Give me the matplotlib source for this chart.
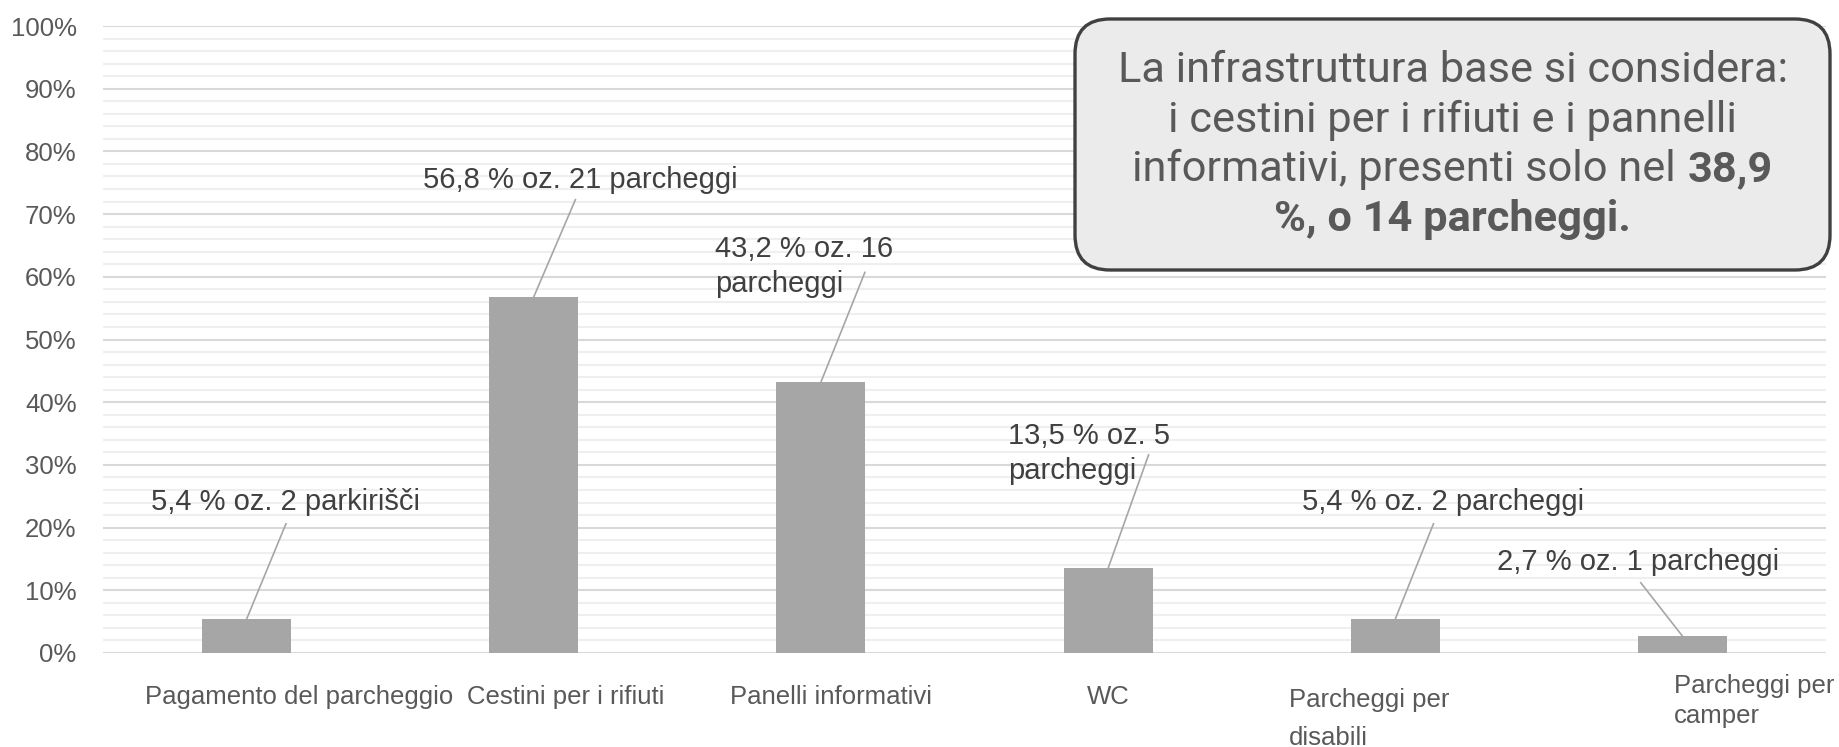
import matplotlib
matplotlib.use("Agg")
import matplotlib.pyplot as plt
from matplotlib.patches import FancyBboxPatch
from matplotlib.offsetbox import TextArea, HPacker, VPacker, AnnotationBbox
from matplotlib.ticker import MultipleLocator, PercentFormatter
import matplotlib.transforms as mtransforms

# data
categories = ["Pagamento del parcheggio", "Cestini per i rifiuti", "Panelli informativi",
              "WC", "Parcheggi per\ndisabili", "Parcheggi per\ncamper"]
shares = [5.4, 56.8, 43.2, 13.5, 5.4, 2.7]
bar_labels = ["5,4 % oz. 2 parkirišči", "56,8 % oz. 21 parcheggi", "43,2 % oz. 16\nparcheggi",
              "13,5 % oz. 5\nparcheggi", "5,4 % oz. 2 parcheggi", "2,7 % oz. 1 parcheggi"]
y_ticks = [0, 10, 20, 30, 40, 50, 60, 70, 80, 90, 100]

# label layout (data coords, last-line baseline)
label_pos = [(0.137, 22.8), (1.161, 74.1), (1.631, 57.6), (2.651, 27.8), (4.165, 22.8), (4.845, 13.25)]
label_ha = ["center", "center", "left", "left", "center", "center"]
leader_from = [(0.137, 20.6), (1.145, 72.3), (2.153, 60.7), (3.141, 31.6), (4.133, 20.6), (4.855, 11.2)]
# x label layout: (x in data, last baseline in axes fraction, ha, linespacing)
xlab_pos = [(0.182, -0.0806, "center", 1.2), (1.112, -0.0806, "center", 1.2), (2.035, -0.0806, "center", 1.2),
            (3.002, -0.0806, "center", 1.2), (3.631, -0.1460, "left", 1.72), (4.969, -0.1116, "left", 1.29)]

plt.rcParams["font.family"] = ["Liberation Sans", "DejaVu Sans"]

W, H = 1839, 747
fig = plt.figure(figsize=(W / 100, H / 100), dpi=100)
ax = fig.add_axes([103 / W, 1 - 653 / H, (1826 - 103) / W, (653 - 26) / H])

x = range(len(categories))
ax.bar(x, shares, width=0.31, color="#a6a6a6", zorder=2)

ax.set_xlim(-0.5, 5.5)
ax.set_ylim(0, 100)
ax.set_yticks(y_ticks)
ax.yaxis.set_minor_locator(MultipleLocator(2))
ax.yaxis.set_major_formatter(PercentFormatter(decimals=0))
ax.grid(which="minor", axis="y", color="#efefef", lw=1.5, zorder=0)
ax.grid(which="major", axis="y", color="#d9d9d9", lw=1.5, zorder=0)
ax.set_axisbelow(True)
ax.tick_params(which="both", length=0)
ax.tick_params(axis="y", labelsize=18.5, labelcolor="#595959", pad=19)
ax.set_xticks([])
for s in ax.spines.values():
    s.set_visible(False)

trans = mtransforms.blended_transform_factory(ax.transData, ax.transAxes)
for i, name in enumerate(categories):
    dx, yy, ha, ls = xlab_pos[i]
    ax.text(dx, yy, name, transform=trans, ha=ha, va="baseline", fontsize=18.5,
            color="#595959", linespacing=ls, clip_on=False)

for i, v in enumerate(shares):
    lx, ly = leader_from[i]
    ax.plot([lx, i], [ly, v], color="#a6a6a6", lw=1.2, zorder=3)
    tx, ty = label_pos[i]
    ax.text(tx, ty, bar_labels[i], ha=label_ha[i], va="baseline", fontsize=21,
            color="#404040", linespacing=1.29, zorder=4)

# callout box
box = FancyBboxPatch((10.75, 4.77), 7.55, 2.51, boxstyle="round,pad=0,rounding_size=0.35",
                     transform=fig.dpi_scale_trans, fc="#ebebeb", ec="#404040", lw=2.4, zorder=5)
fig.add_artist(box)

fs = 31.2
normal = dict(color="#595959", fontsize=fs, family="Roboto")
bold = dict(normal, fontweight="bold")
lines = VPacker(children=[
    TextArea("La infrastruttura base si considera:", textprops=normal),
    TextArea("i cestini per i rifiuti e i pannelli", textprops=normal),
    HPacker(children=[TextArea("informativi, presenti solo nel", textprops=normal),
                      TextArea("38,9", textprops=bold)], sep=8, pad=0),
    TextArea("%, o 14 parcheggi.", textprops=bold),
], align="center", sep=6, pad=0)
ab = AnnotationBbox(lines, (14.525, 6.02), xycoords=fig.dpi_scale_trans, frameon=False,
                    box_alignment=(0.5, 0.5), zorder=6)
fig.add_artist(ab)

fig.savefig("out.png", dpi=100)
